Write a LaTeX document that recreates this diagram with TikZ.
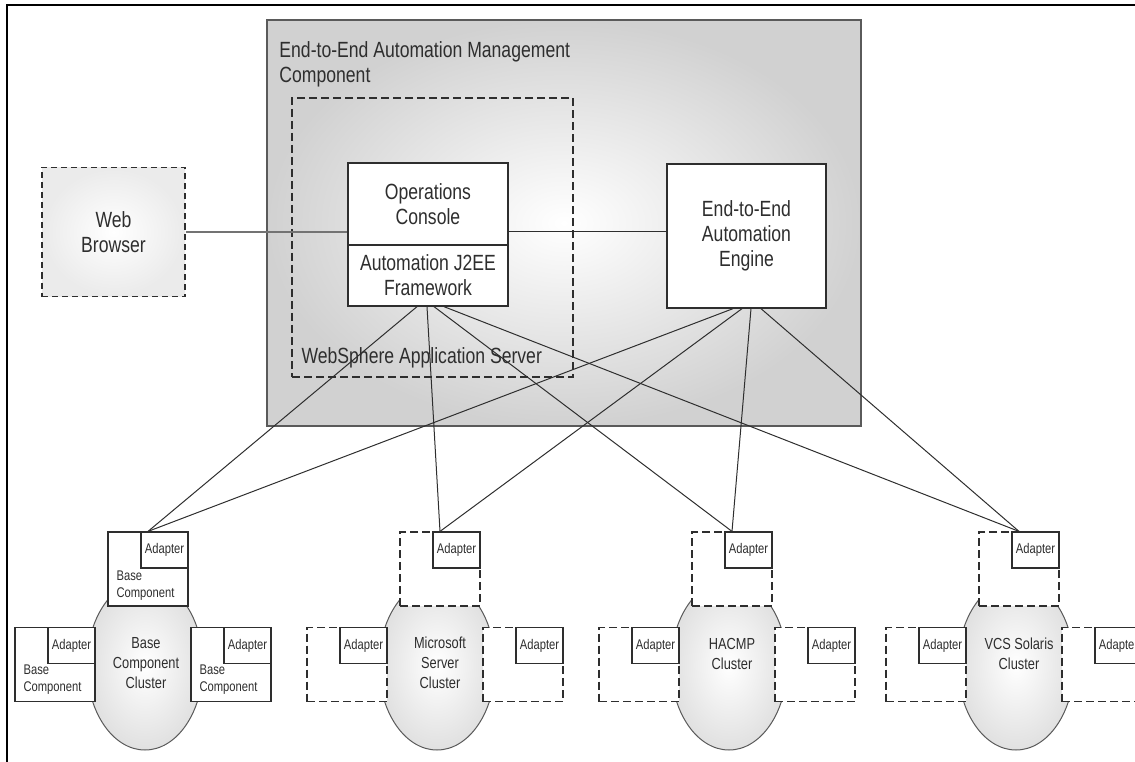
\documentclass[tikz,border=0pt]{standalone}
\usepackage{fontspec}
\setmainfont{Liberation Sans}[FakeStretch=0.8]
\usetikzlibrary{shapes.geometric,calc}
\definecolor{IBMInk}{HTML}{2E2E2E}
\definecolor{IBMEdge}{HTML}{5A5A5A}
\tikzset{
  bigtxt/.style={font=\fontsize{22}{25}\selectfont, text=IBMInk},
  cltxt/.style={font=\fontsize{16}{20}\selectfont, text=IBMInk, align=center},
  smalltxt/.style={font=\fontsize{14}{17}\selectfont, text=IBMInk, align=left, inner sep=0pt},
  mgmtbox/.style={draw=IBMEdge, line width=1.5pt, shading=radial, inner color=white, outer color=black!18, minimum width=594pt, minimum height=406pt, inner sep=0pt},
  wasbox/.style={draw=IBMInk, line width=1.2pt, dash pattern=on 8pt off 4pt, minimum width=281pt, minimum height=279pt, inner sep=0pt},
  whitebox/.style={draw=IBMInk, line width=1.3pt, fill=white, align=center, bigtxt, inner sep=0pt, minimum width=160pt},
  webbox/.style={draw=IBMInk, line width=1.2pt, dash pattern=on 6pt off 4pt, shading=radial, inner color=white, outer color=black!8, align=center, bigtxt, minimum width=143pt, minimum height=129pt},
  clshape/.style={ellipse, draw=IBMEdge, line width=1pt, shading=radial, inner color=white, outer color=black!12, minimum width=116pt, minimum height=170pt, inner sep=0pt},
  compbox/.style={draw=IBMInk, line width=1.2pt, fill=white, minimum width=80pt, minimum height=74pt, inner sep=0pt},
  dashbox/.style={compbox, dash pattern=on 8pt off 4pt},
  adapter/.style={draw=IBMInk, line width=1.2pt, fill=white, minimum width=47pt, minimum height=36pt, inner sep=0pt, font=\fontsize{14}{17}\selectfont, text=IBMInk, anchor=north east},
  link/.style={draw=IBMInk, line width=1pt},
  weblink/.style={draw=black!55, line width=2pt},
  frame/.style={draw=black, line width=2pt}
}
\begin{document}
\begin{tikzpicture}[x=1pt, y=-1pt]
\useasboundingbox (0,0) rectangle (1135,762);
\clip (0,0) rectangle (1135,762);
\draw[frame] (7,770) -- (7,5) -- (1140,5);

% management component
\node[mgmtbox] (mgmt) at (564,223) {};
\node[bigtxt, align=left, anchor=north west, inner sep=0pt] (mgmttitle) at ([xshift=13pt,yshift=-22pt]mgmt.north west) {End-to-End Automation Management\\Component};
\node[wasbox] (was) at (432.5,237.5) {};
\node[bigtxt, anchor=base west, inner sep=0pt] (wastitle) at ([xshift=10pt,yshift=14pt]was.south west) {WebSphere Application Server};
\node[whitebox, minimum height=82pt] (ops) at (428,204) {Operations\\Console};
\node[whitebox, minimum height=61pt] (j2ee) at (428,275.5) {Automation J2EE\\Framework};
\node[whitebox, minimum width=159pt, minimum height=144pt] (engine) at (746.5,236) {End-to-End\\Automation\\Engine};
\node[webbox] (browser) at (113.5,232) {Web\\Browser};
\draw[weblink] (browser.east) -- (browser.east -| ops.west);
\draw[link] (engine.west |- browser.east) -- (browser.east -| ops.east);

% base component cluster
\node[clshape] (bccl) at (145,665) {};
\node[compbox] (bctop) at (148,569) {};
\node[adapter] (bctopad) at (bctop.north east) {Adapter};
\node[smalltxt, anchor=south west] at ([xshift=9pt,yshift=6pt]bctop.south west) {Base\\Component};
\node[compbox] (bcleft) at (55,664.5) {};
\node[adapter] (bcleftad) at (bcleft.north east) {Adapter};
\node[smalltxt, anchor=south west] at ([xshift=9pt,yshift=8pt]bcleft.south west) {Base\\Component};
\node[compbox] (bcright) at (231,664.5) {};
\node[adapter] (bcrightad) at (bcright.north east) {Adapter};
\node[smalltxt, anchor=south west] at ([xshift=9pt,yshift=8pt]bcright.south west) {Base\\Component};
\node[cltxt] (bctxt) at (146,663) {Base\\Component\\Cluster};

% microsoft server cluster
\node[clshape] (mscl) at (437,665) {};
\node[dashbox] (mstop) at (440,569) {};
\node[adapter] (mstopad) at (mstop.north east) {Adapter};
\node[dashbox] (msleft) at (347,664.5) {};
\node[adapter] (msleftad) at (msleft.north east) {Adapter};
\node[dashbox] (msright) at (523,664.5) {};
\node[adapter] (msrightad) at (msright.north east) {Adapter};
\node[cltxt] (mstxt) at (440,663) {Microsoft\\Server\\Cluster};

% hacmp cluster
\node[clshape] (hacl) at (729,665) {};
\node[dashbox] (hatop) at (732,569) {};
\node[adapter] (hatopad) at (hatop.north east) {Adapter};
\node[dashbox] (haleft) at (639,664.5) {};
\node[adapter] (haleftad) at (haleft.north east) {Adapter};
\node[dashbox] (haright) at (815,664.5) {};
\node[adapter] (harightad) at (haright.north east) {Adapter};
\node[cltxt] (hatxt) at (732,654) {HACMP\\Cluster};

% vcs solaris cluster
\node[clshape] (vccl) at (1016,665) {};
\node[dashbox] (vctop) at (1019,569) {};
\node[adapter] (vctopad) at (vctop.north east) {Adapter};
\node[dashbox] (vcleft) at (926,664.5) {};
\node[adapter] (vcleftad) at (vcleft.north east) {Adapter};
\node[dashbox] (vcright) at (1102,664.5) {};
\node[adapter] (vcrightad) at (vcright.north east) {Adapter};
\node[cltxt] (vctxt) at (1019,654) {VCS Solaris\\Cluster};

% links to the clusters
\draw[link] ([xshift=-11pt]j2ee.south) -- (bctop.north);
\draw[link] ([xshift=-1pt]j2ee.south) -- (mstop.north);
\draw[link] ([xshift=6pt]j2ee.south) -- (hatop.north);
\draw[link] ([xshift=16pt]j2ee.south) -- (vctop.north);
\draw[link] ([xshift=-13.5pt]engine.south) -- (bctop.north);
\draw[link] ([xshift=-4.5pt]engine.south) -- (mstop.north);
\draw[link] ([xshift=4.5pt]engine.south) -- (hatop.north);
\draw[link] ([xshift=14.5pt]engine.south) -- (vctop.north);
\end{tikzpicture}
\end{document}
